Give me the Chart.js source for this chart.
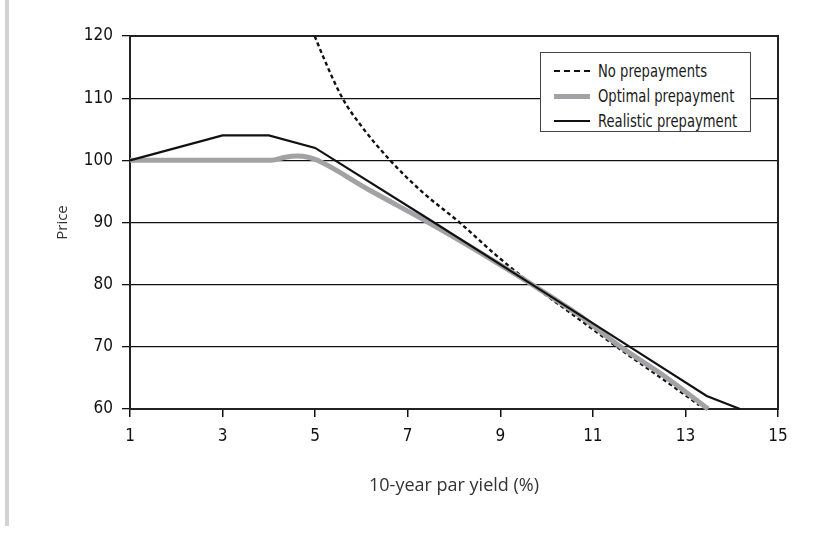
<!DOCTYPE html>
<html>
<head>
<meta charset="utf-8">
<script src="https://cdn.jsdelivr.net/npm/chart.js@4"></script>
<style>
  body { margin: 0; background: #fff; }
  #wrap { position: relative; width: 824px; height: 543px; overflow: hidden; }
  #bar { position: absolute; left: 5px; top: 0; width: 4px; height: 526px; background: #d2d2d4; }
  #chart { position: absolute; left: 0; top: 0; }
  #legend {
    position: absolute; left: 540px; top: 52px; width: 209px; height: 78px;
    border: 1px solid #444; background: #fff;
    font-family: "DejaVu Sans Condensed", "DejaVu Sans", sans-serif;
    font-stretch: condensed;
    font-size: 17px; color: #1a1a1a;
  }
  .row { position: absolute; left: 13px; height: 20px; line-height: 20px; }
  .row span { position: absolute; left: 44px; white-space: nowrap; transform: scaleX(0.86); transform-origin: 0 50%; }
  .sample { position: absolute; left: 0; width: 36px; top: 10px; }
</style>
</head>
<body>
<div id="wrap">
  <div id="bar"></div>
  <canvas id="chart" width="824" height="543"></canvas>
  <div id="legend"></div>
</div>
<script>
// values
const seriesNames = ["No prepayments", "Optimal prepayment", "Realistic prepayment"];

const noPrepayYield = [4.99, 5.2, 5.59, 6.0, 6.62, 7.3, 8.12, 8.9, 9.69, 10.6, 11.5, 12.4, 13.3];
const noPrepayPrice = [120, 116.2, 110, 105.5, 100, 95, 90, 84.8, 80, 75, 70.1, 65.4, 60.6];

const optimalYield = [1, 4.05, 4.35, 4.62, 4.85, 5.05, 6.2, 7.45, 8.6, 9.69, 10.7, 11.6, 12.6, 13.49];
const optimalPrice = [100, 100, 100.5, 100.7, 100.5, 100, 95.1, 90, 85, 80, 75.1, 70, 65, 60];

const realisticYield = [1, 3, 4, 5, 7.57, 9.69, 11.8, 13.46, 14.18];
const realisticPrice = [100, 104, 104, 102, 90, 80, 70, 62.1, 60];

const xTicks = [1, 3, 5, 7, 9, 11, 13, 15];
const yTicks = [60, 70, 80, 90, 100, 110, 120];

function pts(xs, ys) {
  return xs.map((x, i) => ({ x: x, y: ys[i] }));
}

const narrow = "'DejaVu Sans Condensed', 'DejaVu Sans', sans-serif";
const styles = [
  { color: "#111", width: 2.4, dash: [4, 3] },
  { color: "#a2a2a5", width: 5, dash: [] },
  { color: "#111", width: 2.2, dash: [] }
];

// plot frame (top and right border)
const frame = {
  id: "frame",
  beforeDatasetsDraw(chart) {
    const a = chart.chartArea;
    const ctx = chart.ctx;
    ctx.save();
    ctx.strokeStyle = "#222";
    ctx.lineWidth = 2;
    ctx.strokeRect(a.left, a.top, a.right - a.left, a.bottom - a.top);
    ctx.restore();
  }
};

const ctx = document.getElementById("chart").getContext("2d");
new Chart(ctx, {
  type: "line",
  data: {
    datasets: [
      {
        label: seriesNames[0], data: pts(noPrepayYield, noPrepayPrice),
        borderColor: styles[0].color, borderWidth: styles[0].width, borderDash: styles[0].dash,
        cubicInterpolationMode: "monotone", order: 3
      },
      {
        label: seriesNames[1], data: pts(optimalYield, optimalPrice),
        borderColor: styles[1].color, borderWidth: styles[1].width,
        cubicInterpolationMode: "monotone", order: 2
      },
      {
        label: seriesNames[2], data: pts(realisticYield, realisticPrice),
        borderColor: styles[2].color, borderWidth: styles[2].width,
        tension: 0, order: 1
      }
    ]
  },
  options: {
    responsive: false,
    animation: false,
    clip: false,
    layout: { padding: { left: 0, top: 36, right: 46, bottom: 0 } },
    elements: { point: { radius: 0 } },
    plugins: { legend: { display: false }, tooltip: { enabled: false } },
    scales: {
      x: {
        type: "linear", min: 1, max: 15,
        afterBuildTicks: s => { s.ticks = xTicks.map(v => ({ value: v })); },
        afterFit: s => { s.height = 134; },
        grid: { drawOnChartArea: false, color: "#111", lineWidth: 1.5, tickLength: 8 },
        border: { color: "#111", width: 2 },
        ticks: { color: "#111", font: { family: narrow, size: 17 }, padding: 9, maxRotation: 0 },
        title: {
          display: true, text: "10-year par yield (%)", color: "#333",
          font: { family: "'Open Sans', sans-serif", size: 18 },
          padding: { top: 46, bottom: 46 }
        }
      },
      y: {
        type: "linear", min: 60, max: 120,
        afterBuildTicks: s => { s.ticks = yTicks.map(v => ({ value: v })); },
        afterFit: s => { s.width = 130; },
        grid: { color: "#111", lineWidth: 1.3, tickLength: 8 },
        border: { color: "#111", width: 2 },
        ticks: { color: "#111", font: { family: narrow, size: 17 }, padding: 9 },
        title: {
          display: true, text: "Price", color: "#333",
          font: { family: "'Open Sans', sans-serif", size: 15 },
          padding: { top: 54, bottom: 54 }
        }
      }
    }
  },
  plugins: [frame]
});

// boxed legend inside the plot
const legend = document.getElementById("legend");
seriesNames.forEach((name, i) => {
  const row = document.createElement("div");
  row.className = "row";
  row.style.top = (8 + i * 25) + "px";
  const sample = document.createElement("div");
  sample.className = "sample";
  const st = styles[i];
  sample.style.borderTop = st.width + "px " + (st.dash.length ? "dashed" : "solid") + " " + st.color;
  sample.style.marginTop = (-st.width / 2) + "px";
  const label = document.createElement("span");
  label.textContent = name;
  row.appendChild(sample);
  row.appendChild(label);
  legend.appendChild(row);
});
</script>
</body>
</html>
